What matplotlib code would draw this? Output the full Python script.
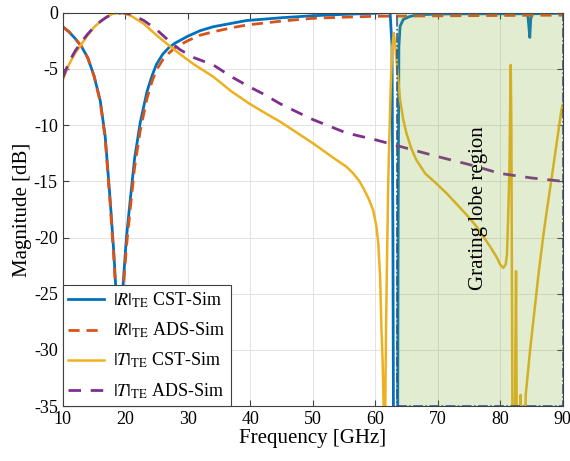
import matplotlib
matplotlib.use("Agg")
import matplotlib.pyplot as plt
from matplotlib.patches import Rectangle

plt.rcParams['font.family'] = ['Liberation Serif', 'DejaVu Serif']
plt.rcParams['mathtext.fontset'] = 'stix'
plt.rcParams['axes.unicode_minus'] = False

# |R|_TE, CST simulation
r_cst_f = [10, 11, 12, 13, 14, 15, 16, 16.8, 17.6, 18.2, 18.6, 18.9, 19.0,
           19.1, 19.4, 19.7, 20.2, 20.8, 21.5, 22.4, 23.5, 24.3, 25.0, 26, 27, 28, 29, 30,
           32, 34.1, 37, 39.4, 45, 50, 55, 60, 62.4, 62.7, 62.85, 62.95, 63.6,
           63.68, 63.8, 64.0, 64.5, 65.5, 66.6, 70, 75, 80, 84.4, 84.6, 84.75,
           84.9, 85.1, 90]
r_cst_db = [-1.25, -1.7, -2.3, -3.0, -4.0, -5.6, -7.8, -11.0, -16.7, -21.5, -25.5, -32, -40,
            -35, -27, -23.9, -20.0, -16.7, -13.0, -9.8, -7.0, -5.6, -4.6, -3.7, -3.1, -2.7, -2.4, -2.1,
            -1.6, -1.25, -0.95, -0.7, -0.45, -0.27, -0.15, -0.05, 0.0, -3.0, -20, -40, -40,
            -20, -3.0, -1.2, -0.6, -0.35, -0.2, -0.12, -0.1, -0.1, -0.1, -1.2, -2.2,
            -0.6, -0.1, -0.05]

# |R|_TE, ADS simulation
r_ads_f = [10, 11, 12, 13, 14, 15, 16, 16.8, 17.6, 18.2, 18.6, 18.9, 19.0,
           19.1, 19.4, 19.7, 20.2, 20.8, 21.5, 22.4, 23.5, 24.3, 25.0, 26, 27, 28, 29, 30,
           32, 34.1, 37, 39.4, 45, 50, 55, 60, 70, 80, 90]
r_ads_db = [-1.25, -1.7, -2.3, -3.0, -4.0, -5.6, -7.9, -11.2, -17.0, -22.0, -26.0, -33, -40,
            -36, -28, -24.5, -20.8, -17.5, -13.8, -10.5, -7.6, -6.1, -5.1, -4.2, -3.6, -3.1, -2.8, -2.5,
            -2.0, -1.7, -1.35, -1.1, -0.75, -0.5, -0.4, -0.32, -0.28, -0.25, -0.22]

# |T|_TE, CST simulation
t_cst_f = [10, 11, 12, 13, 14, 15, 16, 17, 18, 19.4, 21, 23, 25, 27.2, 28.8, 31,
           34.1, 37, 39.9, 42, 44.8, 47, 50, 53.8, 55.4, 56.5, 57.5, 58.3, 59.0, 59.7,
           60.2, 60.5, 60.8, 61.0, 61.2, 61.4, 61.5, 61.6, 61.75, 61.9, 62.1,
           62.25, 62.5, 62.75, 63.0, 63.2, 63.5, 64.0, 64.5, 65.0, 65.8, 66.6,
           68, 69.8, 71.5, 73.0, 74.5, 76.2, 78.4, 79.5, 80.0, 80.5, 80.9, 81.1,
           81.3, 81.5, 81.6, 81.7, 81.8, 81.9, 82.0, 82.35, 82.45, 82.55, 82.6,
           82.7, 83.2, 83.3, 83.4, 83.9, 84.1, 84.8, 85.5, 86.2, 86.9, 87.5,
           88.2, 89.0, 89.8, 90]
t_cst_db = [-6.0, -4.6, -3.6, -2.8, -2.0, -1.3, -0.8, -0.4, -0.1, 0.0, -0.3, -1.0, -2.0, -3.0, -3.7, -4.6,
            -5.7, -7.0, -8.1, -8.8, -9.7, -10.5, -11.6, -13.1, -13.7, -14.3, -15.0, -15.8, -16.6, -17.6,
            -19.0, -20.5, -23.5, -27.9, -31, -36, -40, -36, -28, -22, -15,
            -11.6, -6.5, -3.0, -1.8, -2.8, -4.8, -7.8, -9.5, -10.7, -12.1, -13.1,
            -14.3, -15.2, -16.1, -17.0, -17.9, -19.0, -20.8, -21.8, -22.4, -22.7, -22.4, -21.5,
            -18.0, -13.7, -9.0, -4.65, -10, -25, -40, -40, -30, -23.0, -30,
            -40, -40, -34, -40, -40, -34, -30.0, -26.5, -23.0, -19.9, -17.5,
            -14.9, -11.8, -8.7, -8.2]

# |T|_TE, ADS simulation
t_ads_f = [10, 11, 12, 13, 14, 15, 16, 17, 18, 19.7, 21, 23, 25, 27.2, 28.8, 31,
           34.1, 37, 39.9, 42, 44.8, 47, 50, 55.4, 60, 64, 70, 75, 80, 85, 90]
t_ads_db = [-5.8, -4.4, -3.4, -2.6, -1.9, -1.3, -0.8, -0.4, -0.12, 0.0, -0.15, -0.7, -1.5, -2.6, -3.3, -4.0,
            -4.65, -5.7, -6.6, -7.2, -8.1, -8.7, -9.5, -10.7, -11.3, -11.9, -12.8, -13.5, -14.3, -14.7, -15.0]

grating_start = 63.5

fig = plt.figure(figsize=(5.7, 4.61), dpi=100)
ax = fig.add_axes([0.110, 0.119, 0.877, 0.8535])

ax.plot(r_cst_f, r_cst_db, color='#0072BD', lw=2.0, label=r'$|R|_{\mathrm{TE}}$ CST-Sim', zorder=2)
ax.plot(r_ads_f, r_ads_db, color='#D95319', lw=2.0, ls=(0, (4, 2.5)), label=r'$|R|_{\mathrm{TE}}$ ADS-Sim', zorder=2)
ax.plot(t_cst_f, t_cst_db, color='#EDB120', lw=1.8, label=r'$|T|_{\mathrm{TE}}$ CST-Sim', zorder=2)
ax.plot(t_ads_f, t_ads_db, color='#7E2F8E', lw=2.0, ls=(0, (4.5, 3.5)), label=r'$|T|_{\mathrm{TE}}$ ADS-Sim', zorder=2)

# grating lobe region: translucent fill on top of the curves + dash-dot border
ax.add_patch(Rectangle((grating_start, -35), 90 - grating_start, 35,
                       facecolor='#77AC30', alpha=0.22, edgecolor='none', zorder=3))
ax.add_patch(Rectangle((grating_start, -35), 90 - grating_start, 35,
                       facecolor='none', edgecolor='#2B4C8C', lw=1.1, ls='-.', zorder=4))
ax.text(76.6, -17.4, 'Grating lobe region', rotation=90, fontsize=15,
        ha='center', va='center', zorder=5)

ax.set_xlim(10, 90)
ax.set_ylim(-35, 0)
ax.set_xticks(range(10, 91, 10))
ax.set_yticks(range(-35, 1, 5))
ax.grid(True, color='#e3e3e3', lw=0.7)
ax.set_axisbelow(True)
ax.tick_params(direction='in', top=True, right=True, labelsize=13, length=4, color='#404040')
for s in ax.spines.values():
    s.set_color('#404040')
    s.set_linewidth(0.8)

ax.set_xlabel('Frequency [GHz]', fontsize=15, labelpad=1)
ax.set_ylabel('Magnitude [dB]', fontsize=15, labelpad=1)

leg = ax.legend(loc='lower left', fontsize=13, borderaxespad=0, fancybox=False,
                framealpha=1, edgecolor='#404040', handlelength=2.0,
                labelspacing=0.6, borderpad=0.3, handletextpad=0.5)
leg.get_frame().set_linewidth(0.8)
leg.set_zorder(6)

fig.savefig('out.png', dpi=100)
